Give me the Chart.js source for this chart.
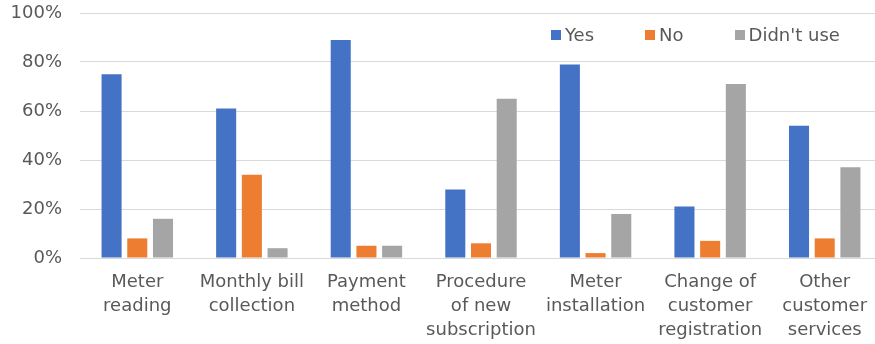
<!DOCTYPE html>
<html>
<head>
<meta charset="utf-8">
<script src="https://cdn.jsdelivr.net/npm/chart.js@4"></script>
<style>
  html, body { margin: 0; padding: 0; background: #fff; overflow: hidden; }
  #wrap { position: relative; width: 882px; height: 344px; }
  #legend {
    position: absolute; left: 551px; top: 25px;
    display: flex; gap: 51px;
    font: 18px "DejaVu Sans", sans-serif; color: #595959; line-height: 20px;
  }
  #legend .item { display: flex; align-items: center; white-space: nowrap; }
  #legend .sw { width: 10px; height: 10px; margin-right: 4px; }
</style>
</head>
<body>
<div id="wrap">
  <canvas id="c"></canvas>
  <div id="legend"></div>
</div>
<script>
// Survey: satisfaction with each customer service (share of respondents, %)
const categories = [
  ["Meter", "reading"],
  ["Monthly bill", "collection"],
  ["Payment", "method"],
  ["Procedure", "of new", "subscription"],
  ["Meter", "installation"],
  ["Change of", "customer", "registration"],
  ["Other", "customer", "services"]
];
const seriesNames = ["Yes", "No", "Didn't use"];
const yesValues      = [75, 61, 89, 28, 79, 21, 54];
const noValues       = [8, 34, 5, 6, 2, 7, 8];
const didntUseValues = [16, 4, 5, 65, 18, 71, 37];
const yTicks = [0, 20, 40, 60, 80, 100];

const colors = ["#4472C4", "#ED7D31", "#A5A5A5"];
const textColor = "#595959";
const gridColor = "#D9D9D9";
const font = { family: "'DejaVu Sans', sans-serif", size: 18, lineHeight: 24 / 18 };

const datasets = [yesValues, noValues, didntUseValues].map((vals, i) => ({
  label: seriesNames[i],
  data: vals,
  backgroundColor: colors[i],
  categoryPercentage: 0.673,
  barPercentage: 0.78
}));

new Chart(document.getElementById("c"), {
  type: "bar",
  data: { labels: categories, datasets },
  options: {
    responsive: true,
    maintainAspectRatio: false,
    animation: false,
    layout: { padding: { top: 13, left: 0, right: 0, bottom: 0 } },
    plugins: { legend: { display: false }, tooltip: { enabled: false } },
    scales: {
      x: {
        grid: { display: false, drawTicks: false },
        border: { display: true, color: gridColor, width: 1 },
        ticks: { color: textColor, font, padding: 12, autoSkip: false, maxRotation: 0 },
        afterFit: s => { s.height = 86; }
      },
      y: {
        min: 0, max: 100,
        afterBuildTicks: s => { s.ticks = yTicks.map(v => ({ value: v })); },
        // the gap between labels and plot comes from an invisible tick mark
        grid: { color: gridColor, lineWidth: 1, drawTicks: true, tickLength: 18, tickColor: "rgba(0,0,0,0)" },
        border: { display: false },
        ticks: { color: textColor, font, padding: 0, callback: v => v + "%" },
        afterFit: s => { s.width = 80; }
      }
    }
  }
});

// Legend built from the series names and colours
const legend = document.getElementById("legend");
seriesNames.forEach((name, i) => {
  const item = document.createElement("div");
  item.className = "item";
  const sw = document.createElement("span");
  sw.className = "sw";
  sw.style.background = colors[i];
  const t = document.createElement("span");
  t.textContent = name;
  item.appendChild(sw);
  item.appendChild(t);
  legend.appendChild(item);
});
</script>
</body>
</html>
